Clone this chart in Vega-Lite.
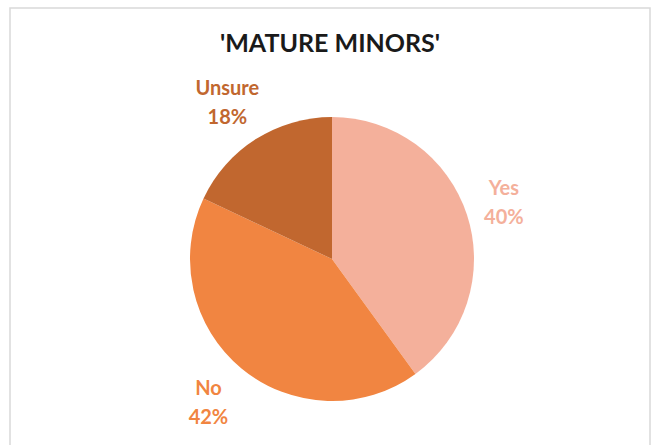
{
  "$schema": "https://vega.github.io/schema/vega-lite/v6.json",
  "autosize": {"type": "none"},
  "width": 640,
  "height": 440,
  "padding": {"left": 10, "top": 8, "right": 4, "bottom": -3},
  "background": "white",
  "title": {
    "text": "'MATURE MINORS'",
    "font": "Lato",
    "fontSize": 25,
    "fontWeight": "bold",
    "color": "#1a1a1a",
    "anchor": "middle",
    "orient": "top",
    "offset": -50
  },
  "data": {
    "values": [
      {"answer": "Yes", "pct": 40, "order": 1, "label": ["Yes", "40%"]},
      {"answer": "No", "pct": 42, "order": 2, "label": ["No", "42%"]},
      {"answer": "Unsure", "pct": 18, "order": 3, "label": ["Unsure", "18%"]}
    ]
  },
  "layer": [
    {
      "data": {"values": [{}]},
      "mark": {"type": "rect", "fill": "white", "fillOpacity": 0, "stroke": "#d9d9d9", "strokeWidth": 1.5}
    },
    {
      "encoding": {
        "theta": {"field": "pct", "type": "quantitative", "stack": true},
        "order": {"field": "order", "type": "quantitative"},
        "color": {
          "field": "answer",
          "type": "nominal",
          "scale": {"domain": ["Yes", "No", "Unsure"], "range": ["#F4B09B", "#F18541", "#C1672F"]},
          "legend": null
        }
      },
      "layer": [
        {"mark": {"type": "arc", "outerRadius": 142, "yOffset": 31, "xOffset": 2}},
        {
          "mark": {"type": "text", "radius": 186, "yOffset": 18, "xOffset": -3, "font": "Lato", "fontSize": 20, "fontWeight": "bold", "lineHeight": 29},
          "encoding": {"text": {"field": "label"}}
        }
      ]
    }
  ]
}
